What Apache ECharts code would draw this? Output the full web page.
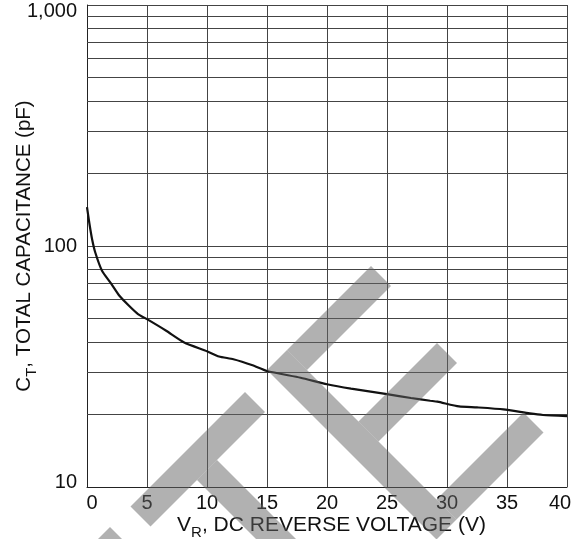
<!DOCTYPE html>
<html><head><meta charset="utf-8">
<script src="https://cdn.jsdelivr.net/npm/echarts@6/dist/echarts.min.js"></script>
<style>html,body{margin:0;padding:0;background:#fff}#c{width:585px;height:539px}</style>
</head><body><div id="c"></div>
<script>
// V_R (V)
const vr = [0, 0.2, 0.42, 0.69, 1.25, 2.0, 2.72, 3.5, 4.25, 5, 6.6, 8.1, 10, 11, 12.2, 13.8, 15, 17.8, 20, 22, 25, 27, 28.6, 29.2, 31, 32.5, 34.7, 36.9, 38, 40];
// C_T (pF)
const ct = [145, 124, 107, 94, 79, 70, 62, 56.5, 52.2, 49.7, 44.5, 39.8, 36.6, 34.8, 33.9, 32.0, 30.3, 28.4, 26.7, 25.6, 24.3, 23.4, 22.8, 22.6, 21.6, 21.4, 21.0, 20.2, 19.9, 19.7];
// minor horizontal grid values
const minorGrid = [20, 30, 40, 50, 60, 70, 80, 90, 200, 300, 400, 500, 600, 700, 800, 900];
const xMin = 0, xMax = 40, xStep = 5;
const yMin = 10, yMax = 1000;

const FONT = '"Liberation Sans", Arial, sans-serif';
const GRID = '#444';
const chart = echarts.init(document.getElementById('c'), null, {renderer: 'canvas'});

function band(s0, s1, d0, d1) {
  const p = (s, d) => [(s - d) / 2, (s + d) / 2];
  return {type: 'polygon', z: 100, silent: true,
    shape: {points: [p(s0, d0), p(s0, d1), p(s1, d1), p(s1, d0)]},
    style: {fill: 'rgba(100,100,100,0.5)'}};
}

const data = vr.map((v, i) => [v, ct[i]]);

chart.setOption({
  animation: false,
  backgroundColor: '#fff',
  grid: {left: 87, right: 18, top: 5, bottom: 52, containLabel: false, outerBoundsMode: 'none'},
  xAxis: {
    type: 'value', min: xMin, max: xMax, interval: xStep,
    axisLine: {show: true, lineStyle: {color: '#222', width: 1}},
    axisTick: {show: false},
    splitLine: {show: true, lineStyle: {color: GRID, width: 1}},
    axisLabel: {
      fontSize: 20, fontFamily: FONT, color: '#111', margin: 6,
      formatter: v => v === xMin ? '{l|' + v + '}' : (v === xMax ? '{r|' + v + '}' : String(v)),
      rich: {
        l: {fontSize: 20, fontFamily: FONT, color: '#111', padding: [0, 0, 0, 10]},
        r: {fontSize: 20, fontFamily: FONT, color: '#111', padding: [0, 14, 0, 0]}
      }
    },
    name: '{m|V}{s|R}{m|, DC REVERSE VOLTAGE (V)}',
    nameLocation: 'middle', nameGap: 23, nameMoveOverlap: false,
    nameTextStyle: {
      fontSize: 21, fontFamily: FONT, color: '#111', padding: [0, 0, 0, 9],
      rich: {
        m: {fontSize: 21, fontFamily: FONT, color: '#111', lineHeight: 30},
        s: {fontSize: 15, fontFamily: FONT, color: '#111', lineHeight: 15, verticalAlign: 'bottom'}
      }
    }
  },
  yAxis: {
    type: 'log', logBase: 10, min: yMin, max: yMax,
    axisLine: {show: true, lineStyle: {color: '#222', width: 1}},
    axisTick: {show: false},
    splitLine: {show: true, lineStyle: {color: GRID, width: 1}},
    minorTick: {show: false}, minorSplitLine: {show: false},
    axisLabel: {
      fontSize: 20, fontFamily: FONT, color: '#111', margin: 10,
      formatter: v => {
        const s = v >= 1000 ? v.toLocaleString('en-US') : String(v);
        if (v === yMax) return '{t|' + s + '}';
        if (v === yMin) return '{b|' + s + '}';
        return s;
      },
      rich: {
        t: {fontSize: 20, fontFamily: FONT, color: '#111', padding: [13, 0, 0, 0]},
        b: {fontSize: 20, fontFamily: FONT, color: '#111', padding: [0, 0, 10, 0]}
      }
    },
    name: '{m|C}{s|T}{m|, TOTAL CAPACITANCE (pF)}',
    nameLocation: 'middle', nameGap: 48, nameRotate: 90, nameMoveOverlap: false,
    nameTextStyle: {
      fontSize: 20.5, fontFamily: FONT, color: '#111',
      rich: {
        m: {fontSize: 20.5, fontFamily: FONT, color: '#111', lineHeight: 30},
        s: {fontSize: 15, fontFamily: FONT, color: '#111', lineHeight: 15, verticalAlign: 'bottom'}
      }
    }
  },
  series: [
    {
      type: 'line', data: data, symbol: 'none', silent: true,
      lineStyle: {opacity: 0}, z: 1,
      markLine: {
        silent: true, symbol: ['none', 'none'], animation: false,
        label: {show: false},
        lineStyle: {color: GRID, width: 1, type: 'solid'},
        emphasis: {disabled: true},
        data: minorGrid.map(v => ({yAxis: v}))
      }
    },
    {
      type: 'line', data: data, symbol: 'none', silent: true, z: 5,
      smooth: 0.2,
      lineStyle: {color: '#111', width: 2.2}
    }
  ],
  graphic: [
    band(637, 677, 147, 376),   // T bar
    band(677, 900, 243, 283),   // T stem
    band(637, 976, 63, 103),    // E spine
    band(637, 677, -105, 63),   // E top arm
    band(780, 820, -94, 63),    // E middle arm
    band(936, 976, -111, 63),   // E bottom arm
    band(637, 677, 417, 600)    // partial letter at bottom-left
  ]
});
</script>
</body></html>
